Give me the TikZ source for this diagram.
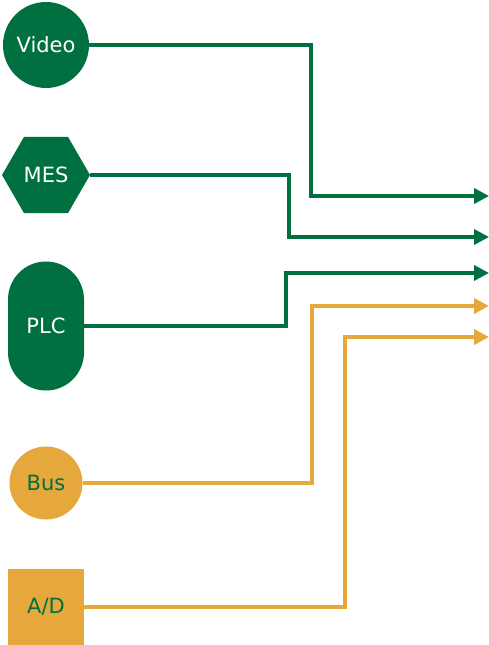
\documentclass[tikz,border=0pt]{standalone}
\usepackage{fontspec}
\setmainfont{DejaVu Sans}
\usetikzlibrary{arrows.meta,shapes.geometric}
\definecolor{signalgreen}{HTML}{007041}
\definecolor{signalorange}{HTML}{E6A83C}
\tikzset{
  source/.style={inner sep=0pt,font=\fontsize{21}{25}\selectfont},
  greensrc/.style={source,fill=signalgreen,text=white},
  orangesrc/.style={source,fill=signalorange,text=signalgreen},
  feed/.style={line width=3.6pt,-{Triangle[length=15pt,width=15pt]}},
}
\begin{document}
\begin{tikzpicture}[x=1pt,y={(0pt,-1pt)}]
   \useasboundingbox (0,0) rectangle (489,645);

   %SOURCES
   \node (video) at (46,45) [greensrc,circle,minimum size=86pt] {Video};
   \node (mes) at (46,175) [greensrc,regular polygon,regular polygon sides=6,minimum size=88pt] {MES};
   \node (plc) at (46,326) [greensrc,rectangle,rounded corners=38pt,minimum width=76pt,minimum height=129pt] {PLC};
   \node (bus) at (46,483) [orangesrc,circle,minimum size=73pt] {Bus};
   \node (ad) at (46,607) [orangesrc,rectangle,minimum size=76pt] {A/D};

   %TURNS
   \coordinate (videoturn) at (311,45);
   \coordinate (mesturn) at (289,175);
   \coordinate (plcturn) at (286,326);
   \coordinate (busturn) at (312,483);
   \coordinate (adturn) at (345,607);

   %OUTPUTS
   \coordinate (videoout) at (489,196);
   \coordinate (mesout) at (489,237);
   \coordinate (plcout) at (489,273);
   \coordinate (busout) at (489,306);
   \coordinate (adout) at (489,337);

   %LINES
   \draw [feed,signalgreen] (video.east) -- (videoturn) |- (videoout);
   \draw [feed,signalgreen] (mes.east) -- (mesturn) |- (mesout);
   \draw [feed,signalgreen] (plc.east) -- (plcturn) |- (plcout);
   \draw [feed,signalorange] (bus.east) -- (busturn) |- (busout);
   \draw [feed,signalorange] (ad.east) -- (adturn) |- (adout);
\end{tikzpicture}
\end{document}
